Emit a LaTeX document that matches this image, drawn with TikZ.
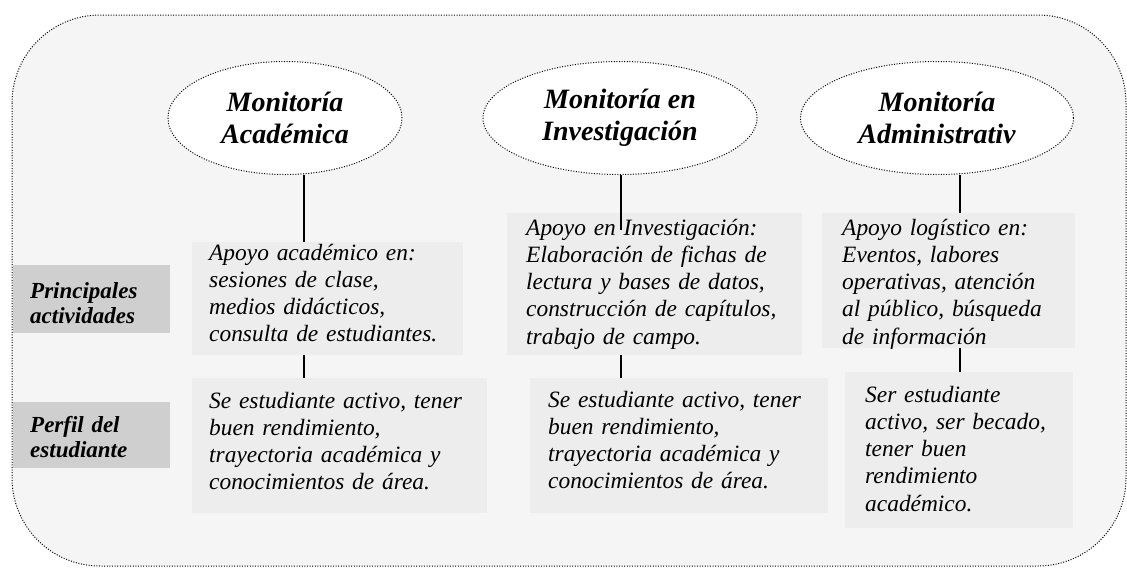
\documentclass[tikz,border=0pt]{standalone}
\usepackage{fontspec}
\setmainfont{Liberation Serif}
\usetikzlibrary{shapes.geometric}
\definecolor{fondo}{gray}{0.96}
\definecolor{caja}{gray}{0.93}
\definecolor{etiqueta}{gray}{0.81}

\begin{document}
\begin{tikzpicture}[x=1pt, y=-1pt,
        punteado/.style={line width=1pt, dash pattern=on 1pt off 1.6pt},
        monitoria/.style={ellipse, draw, punteado, fill=white, inner sep=0pt, minimum height=113pt,
            align=center, font=\fontsize{28}{32}\selectfont\bfseries\itshape},
        texto/.style={anchor=base west, fill=caja, inner ysep=0pt, align=left,
            font=\fontsize{23.4}{27.3}\selectfont\itshape},
        rotulo/.style={anchor=base west, fill=etiqueta, inner ysep=0pt, inner xsep=17pt, text width=123pt,
            align=left, font=\fontsize{23}{25.5}\selectfont\bfseries\itshape},
        linea/.style={line width=1.2pt}]
    \useasboundingbox (0,0) rectangle (1127,573);
    \draw[punteado, fill=fondo, rounded corners=88pt] (12,15) rectangle (1126,566);
    % columnas de las lineas
    \coordinate (xa) at (304,0);
    \coordinate (xb) at (621,0);
    \coordinate (xc) at (960,0);
    % monitorias
    \node[monitoria, minimum width=234pt] (ea) at (285,118) {Monitoría\\Académica};
    \node[monitoria, minimum width=274pt] (eb) at (620,118) {Monitoría en\\Investigación};
    \node[monitoria, minimum width=273pt] (ec) at (937,118) {Monitoría\\Administrativ};
    % rotulos
    \node[rotulo, text height=33pt, text depth=35pt] (ra) at (13,298) {Principales\\actividades};
    \node[rotulo, text height=30pt, text depth=36pt] (rb) at (13,432) {Perfil del\\estudiante};
    % actividades
    \node[texto, inner xsep=17pt, text width=237pt, text height=18pt, text depth=95pt] (aa) at (192,260)
        {Apoyo académico en:\\sesiones de clase,\\medios didácticos,\\consulta de estudiantes.};
    \node[texto, inner xsep=19pt, text width=257pt, text height=22pt, text depth=120pt] (ab) at (507,235)
        {Apoyo en Investigación:\\Elaboración de fichas de\\lectura y bases de datos,\\construcción de capítulos,\\trabajo de campo.};
    \node[texto, inner xsep=20pt, text width=213pt, text height=22pt, text depth=113pt] (ac) at (822,235)
        {Apoyo logístico en:\\Eventos, labores\\operativas, atención\\al público, búsqueda\\de información};
    % perfiles
    \node[texto, inner xsep=17pt, text width=261pt, text height=30pt, text depth=105pt] (ba) at (192,408)
        {Se estudiante activo, tener\\buen rendimiento,\\trayectoria académica y\\conocimientos de área.};
    \node[texto, inner xsep=18pt, text width=262pt, text height=29pt, text depth=106pt] (bb) at (530,407)
        {Se estudiante activo, tener\\buen rendimiento,\\trayectoria académica y\\conocimientos de área.};
    \node[texto, inner xsep=20pt, text width=188pt, text height=30pt, text depth=126pt] (bc) at (845,402)
        {Ser estudiante\\activo, ser becado,\\tener buen\\rendimiento\\académico.};
    % lineas
    \draw[linea] (ea.south -| xa) -- (aa.north -| xa);
    \draw[linea] (aa.south -| xa) -- (ba.north -| xa);
    \draw[linea] (eb.south -| xb) -- ([yshift=-17pt]ab.north -| xb);
    \draw[linea] (ab.south -| xb) -- (bb.north -| xb);
    \draw[linea] (ec.south -| xc) -- (ac.north -| xc);
    \draw[linea] (ac.south -| xc) -- (bc.north -| xc);
\end{tikzpicture}
\end{document}
